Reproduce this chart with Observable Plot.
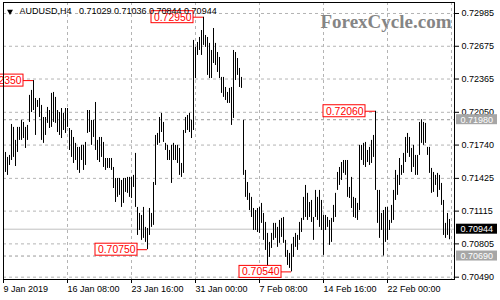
<!DOCTYPE html>
<html>
<head>
<meta charset="utf-8">
<script src="https://cdn.jsdelivr.net/npm/d3@7"></script>
<script src="https://cdn.jsdelivr.net/npm/@observablehq/plot@0.6"></script>
<style>
  html, body { margin: 0; padding: 0; background: #fff; }
</style>
</head>
<body>
<div id="chart"></div>
<script>
// AUDUSD, 4-hour bars (high / low), oldest first
const symbol = "AUDUSD,H4";
const lastOHLC = [0.71029, 0.71036, 0.70844, 0.70944];
const brand = "ForexCycle.com";

const highs = [
  0.71718, 0.71670, 0.71623, 0.71642, 0.71935, 0.71907, 0.71784, 0.71907,
  0.71907, 0.71973, 0.71954, 0.71907, 0.71926, 0.72210, 0.72257, 0.72350,
  0.72181, 0.72162, 0.72181, 0.72115, 0.72001, 0.72001, 0.72096, 0.72067,
  0.72229, 0.72238, 0.72191, 0.72067, 0.72048, 0.72086, 0.72039, 0.72086,
  0.72086, 0.71897, 0.71878, 0.71812, 0.71756, 0.71718, 0.71718, 0.71737,
  0.71737, 0.71765, 0.72067, 0.72067, 0.71973, 0.71973, 0.72143, 0.71784,
  0.71812, 0.71812, 0.71765, 0.71613, 0.71613, 0.71613, 0.71613, 0.71528,
  0.71424, 0.71424, 0.71424, 0.71405, 0.71424, 0.71424, 0.71434, 0.71434,
  0.71434, 0.71453, 0.71661, 0.71150, 0.71093, 0.71074, 0.71150, 0.70961,
  0.70951, 0.71140, 0.71093, 0.71386, 0.71831, 0.71850, 0.72001, 0.72039,
  0.71954, 0.71756, 0.71737, 0.71689, 0.71737, 0.71756, 0.71737, 0.71737,
  0.71708, 0.71566, 0.71878, 0.72001, 0.72020, 0.72039, 0.71973, 0.72730,
  0.72664, 0.72711, 0.72758, 0.72824, 0.72950, 0.72777, 0.72758, 0.72702,
  0.72635, 0.72843, 0.72702, 0.72616, 0.72569, 0.72380, 0.72380, 0.72285,
  0.72238, 0.72276, 0.72285, 0.72635, 0.72616, 0.72559, 0.72465, 0.72380,
  0.71973, 0.71500, 0.71386, 0.71283, 0.71245, 0.71140, 0.71121, 0.71140,
  0.71150, 0.71188, 0.71093, 0.71008, 0.70904, 0.70819, 0.70904, 0.70999,
  0.70999, 0.70961, 0.71027, 0.71046, 0.71055, 0.70838, 0.70743, 0.70715,
  0.70800, 0.70866, 0.70904, 0.70885, 0.71008, 0.71046, 0.71245, 0.71358,
  0.71283, 0.71197, 0.71216, 0.71055, 0.71311, 0.71245, 0.71311, 0.71216,
  0.71074, 0.71074, 0.71055, 0.71027, 0.71046, 0.71169, 0.71283, 0.71481,
  0.71528, 0.71575, 0.71594, 0.71594, 0.71594, 0.71339, 0.71434, 0.71245,
  0.71235, 0.71188, 0.71737, 0.71737, 0.71756, 0.71765, 0.71689, 0.71718,
  0.71784, 0.71831, 0.72060, 0.71311, 0.71311, 0.71093, 0.71121, 0.71150,
  0.71150, 0.71027, 0.71169, 0.71311, 0.71500, 0.71453, 0.71613, 0.71547,
  0.71661, 0.71812, 0.71850, 0.71812, 0.71708, 0.71737, 0.71642, 0.71642,
  0.71954, 0.71980, 0.71954, 0.71945, 0.71718, 0.71718, 0.71519, 0.71481,
  0.71453, 0.71472, 0.71453, 0.71377, 0.71216, 0.70999, 0.71093, 0.71036
];
const lows = [
  0.71339, 0.71481, 0.71453, 0.71547, 0.71594, 0.71623, 0.71537, 0.71670,
  0.71784, 0.71784, 0.71802, 0.71708, 0.71784, 0.71954, 0.72048, 0.72067,
  0.71831, 0.72096, 0.72001, 0.71784, 0.71756, 0.71831, 0.71945, 0.71897,
  0.71907, 0.71954, 0.71945, 0.71859, 0.71831, 0.71802, 0.71878, 0.71850,
  0.71907, 0.71689, 0.71623, 0.71566, 0.71594, 0.71500, 0.71472, 0.71594,
  0.71500, 0.71547, 0.71850, 0.71859, 0.71737, 0.71812, 0.71689, 0.71594,
  0.71575, 0.71623, 0.71528, 0.71500, 0.71519, 0.71519, 0.71500, 0.71329,
  0.71197, 0.71245, 0.71264, 0.71150, 0.71188, 0.71292, 0.71283, 0.71245,
  0.71235, 0.71339, 0.71150, 0.70885, 0.70932, 0.70838, 0.70857, 0.70819,
  0.70750, 0.70885, 0.70961, 0.70980, 0.71358, 0.71737, 0.71756, 0.71859,
  0.71765, 0.71689, 0.71594, 0.71594, 0.71377, 0.71594, 0.71594, 0.71566,
  0.71453, 0.71434, 0.71472, 0.71850, 0.71878, 0.71859, 0.71802, 0.71878,
  0.72370, 0.72588, 0.72635, 0.72588, 0.72683, 0.72664, 0.72399, 0.72370,
  0.72370, 0.72512, 0.72493, 0.72427, 0.72370, 0.72229, 0.72191, 0.72162,
  0.72134, 0.72134, 0.71926, 0.71992, 0.72351, 0.72399, 0.72285, 0.72276,
  0.71453, 0.71245, 0.71216, 0.71121, 0.71055, 0.70932, 0.70932, 0.70913,
  0.70904, 0.70999, 0.70838, 0.70743, 0.70582, 0.70677, 0.70762, 0.70838,
  0.70857, 0.70772, 0.70810, 0.70866, 0.70810, 0.70677, 0.70601, 0.70573,
  0.70540, 0.70677, 0.70772, 0.70743, 0.70838, 0.70913, 0.71027, 0.71055,
  0.71027, 0.71055, 0.71008, 0.70838, 0.71055, 0.71027, 0.70961, 0.70932,
  0.70696, 0.70932, 0.70961, 0.70791, 0.70819, 0.71008, 0.71055, 0.71311,
  0.71358, 0.71405, 0.71472, 0.71453, 0.71245, 0.71235, 0.71140, 0.71055,
  0.71046, 0.71027, 0.71121, 0.71594, 0.71547, 0.71528, 0.71575, 0.71547,
  0.71566, 0.71623, 0.71311, 0.70999, 0.70857, 0.70932, 0.70690, 0.70819,
  0.70838, 0.70932, 0.70999, 0.71027, 0.71216, 0.71264, 0.71358, 0.71453,
  0.71472, 0.71575, 0.71661, 0.71623, 0.71481, 0.71528, 0.71453, 0.71453,
  0.71642, 0.71756, 0.71737, 0.71756, 0.71642, 0.71472, 0.71283, 0.71292,
  0.71358, 0.71245, 0.71311, 0.71169, 0.70885, 0.70857, 0.70885, 0.70844
];

// swing points tagged with their price
const swingHighIdx = [15, 100, 186];
const swingLowIdx = [72, 144];
// horizontal levels
const levels = [0.71980, 0.70690];

// price scale ticks and time axis labels (one every 32 bars)
const yTicks = [0.72985, 0.72675, 0.72365, 0.72050, 0.71740, 0.71425, 0.71115, 0.70805, 0.70490];
const xTickIdx = [0, 32, 64, 96, 128, 160, 192];
const xLabels = ["9 Jan 2019", "16 Jan 08:00", "23 Jan 16:00", "31 Jan 00:00",
                 "7 Feb 08:00", "14 Feb 16:00", "22 Feb 00:00"];

const xMax = 225.5;
const bars = highs.map((h, i) => ({i, hi: h, lo: lows[i]}));
const swings = [
  ...swingHighIdx.map(i => ({i, v: highs[i]})),
  ...swingLowIdx.map(i => ({i, v: lows[i]}))
];
const close = lastOHLC[3];
const fmt = d3.format(".5f");
const nb = "\u00a0";
const header = symbol + nb.repeat(3) + lastOHLC.map(fmt).join(nb);

const grid = {stroke: "#b4b4b4", strokeOpacity: 1, strokeDasharray: "3,3"};
// a price tag box on the right-hand scale
const tag = fill => ({x1: xMax, x2: xMax, y1: d => d, y2: d => d,
  insetLeft: 2, insetRight: -43, insetTop: -5, insetBottom: -5, fill});

const chart = Plot.plot({
  width: 500,
  height: 300,
  marginLeft: 3,
  marginRight: 46,
  marginTop: 2,
  marginBottom: 21,
  style: {fontFamily: "Liberation Sans, Arial, sans-serif", fontSize: "9px", color: "#000", background: "#fff"},
  x: {domain: [0, xMax]},
  y: {domain: [0.70468, 0.73089]},
  marks: [
    Plot.gridY(yTicks, grid),
    Plot.gridX([...xTickIdx.slice(1), 224], grid),
    Plot.ruleY([close], {stroke: "#c0c0c0"}),
    Plot.ruleY(levels, {stroke: "#9a9a9a", strokeDasharray: "3,3"}),
    Plot.text([brand], {frameAnchor: "top-right", textAnchor: "end", lineAnchor: "top",
      dx: -3, dy: 12, fontSize: 19, fontWeight: "bold", fontFamily: "Liberation Serif, serif",
      fill: "#858585"}),
    Plot.ruleX(bars, {x: "i", y1: "lo", y2: "hi", stroke: "#000", strokeWidth: 1}),
    // swing tags: connector, boxed price
    Plot.ruleY(swings, {y: "v", x1: d => d.i - 5, x2: "i", stroke: "#ff0000"}),
    Plot.rect(swings, {x1: d => d.i - 5, x2: d => d.i - 5, y1: "v", y2: "v",
      insetLeft: -42, insetRight: 0, insetTop: -6, insetBottom: -6,
      fill: "#fff", stroke: "#ff0000"}),
    Plot.text(swings, {x: d => d.i - 5, y: "v", text: d => fmt(d.v), textAnchor: "end",
      dx: -2, fill: "#ff0000", fontSize: 10.4}),
    Plot.frame({stroke: "#000"}),
    Plot.axisY(yTicks, {anchor: "right", tickFormat: fmt, tickSize: 4, tickPadding: 3, label: null}),
    Plot.axisX(xTickIdx, {anchor: "bottom", tickFormat: d => xLabels[xTickIdx.indexOf(d)],
      tickSize: 4, tickPadding: 2, textAnchor: "start", label: null}),
    // price tags on the scale
    Plot.rect(levels, tag("#a6a6a6")),
    Plot.rect([close], tag("#000")),
    Plot.text([...levels, close], {y: d => d, text: fmt, frameAnchor: "right",
      textAnchor: "start", dx: 6, fill: "#fff"}),
    // symbol header
    Plot.dot([symbol], {frameAnchor: "top-left", dx: 6.5, dy: 9, symbol: "triangle",
      r: 2.2, rotate: 180, fill: "#000", stroke: "none"}),
    Plot.text([header], {frameAnchor: "top-left", textAnchor: "start", lineAnchor: "middle",
      dx: 16, dy: 8.5, fill: "#000", fontSize: 9})
  ]
});

document.getElementById("chart").appendChild(chart);
</script>
</body>
</html>
